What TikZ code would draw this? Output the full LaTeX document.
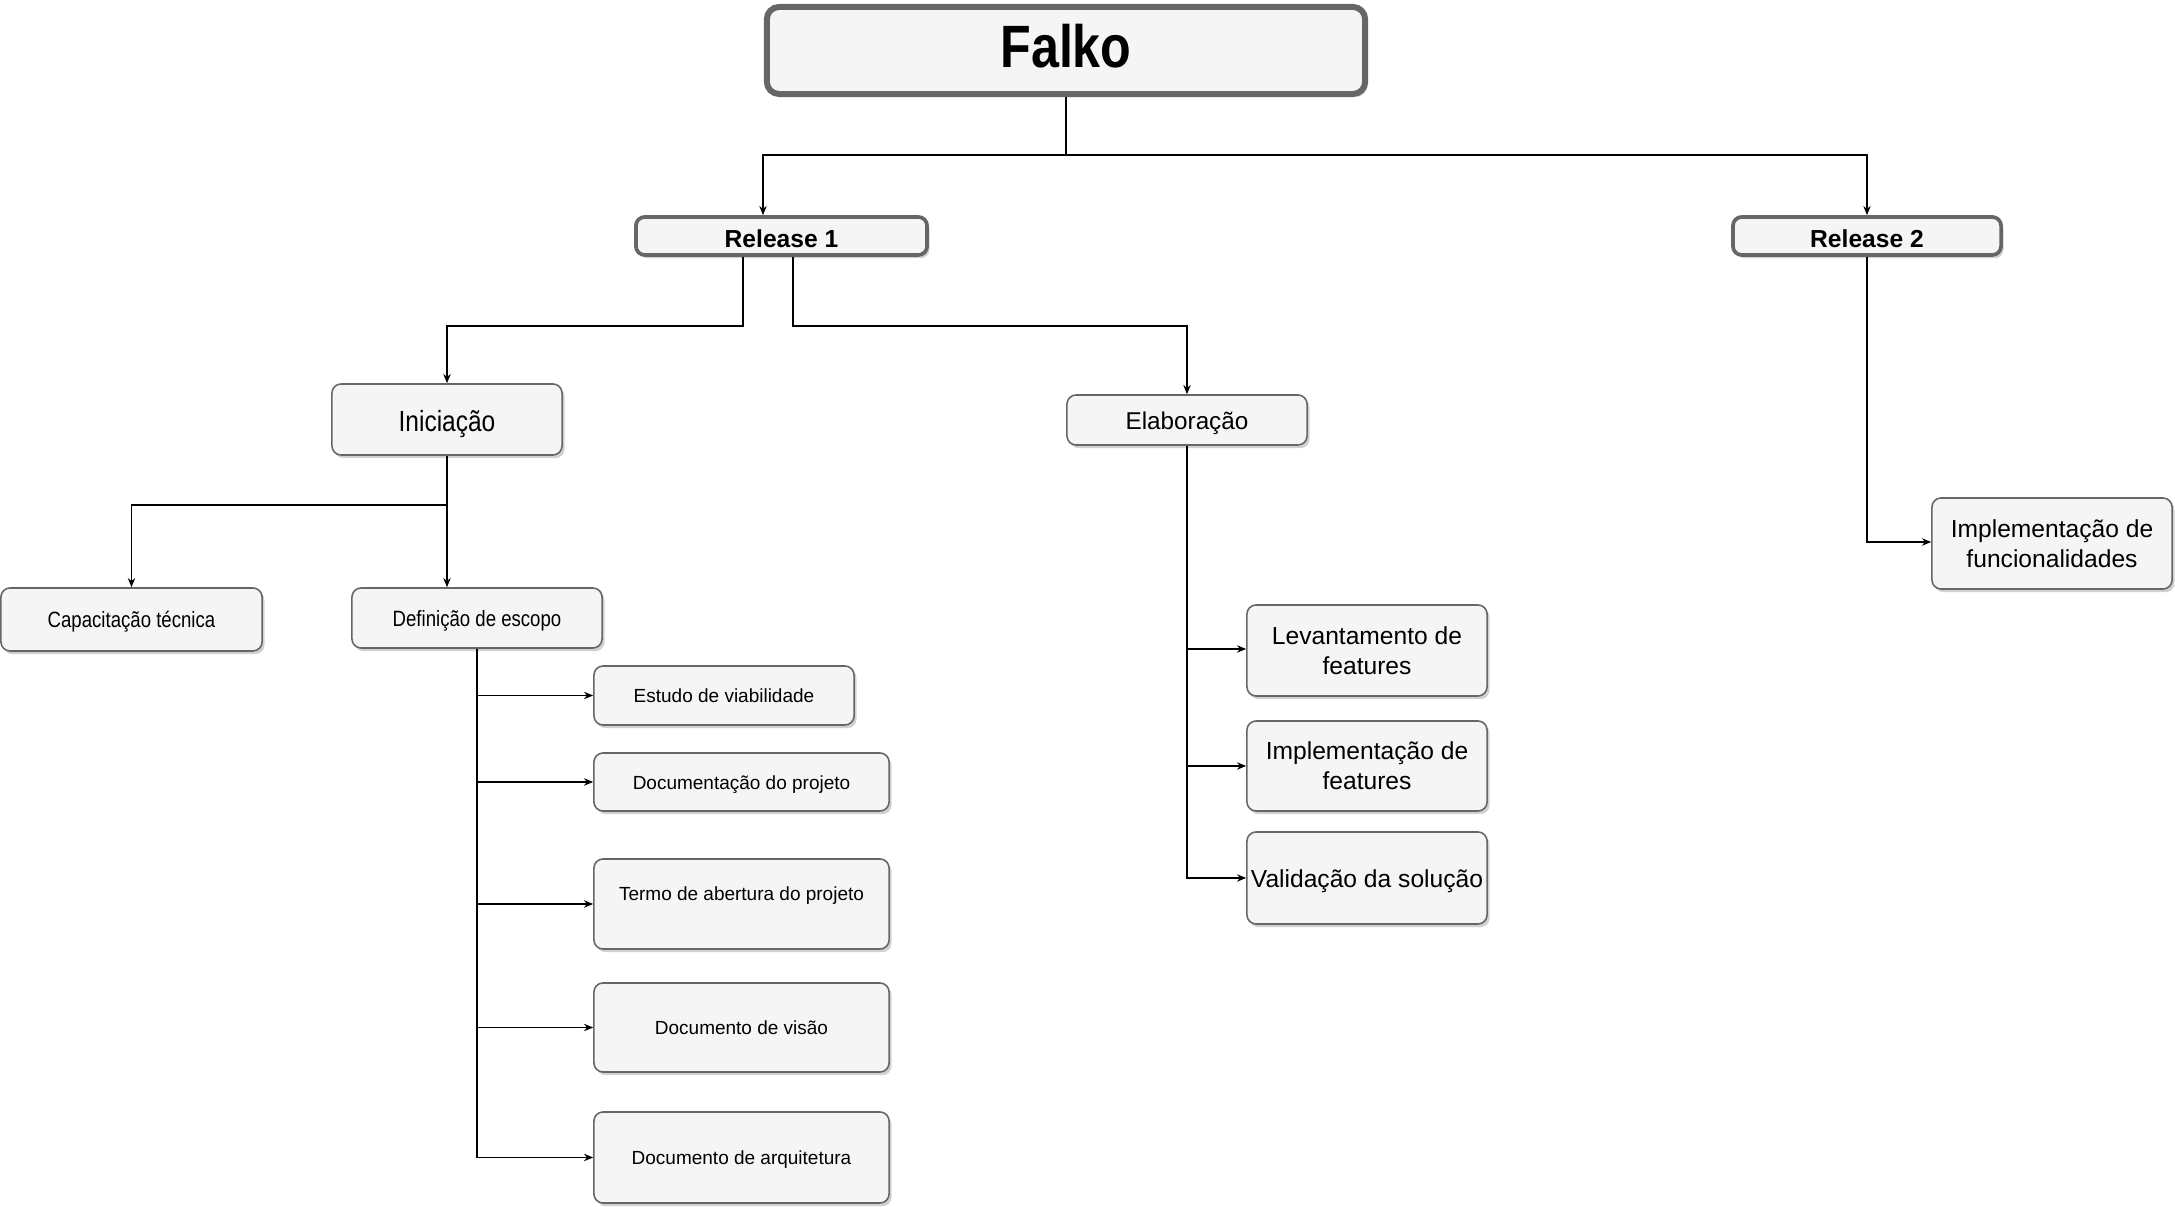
\documentclass[tikz,border=0pt]{standalone}
\usepackage{fontspec}
\setmainfont{Liberation Sans}
\newfontfamily\nrw[FakeStretch=0.84]{Liberation Sans}
\usetikzlibrary{arrows.meta,calc,shadows}
\definecolor{boxfill}{HTML}{F5F5F5}
\definecolor{boxline}{HTML}{666666}
\tikzset{
  shad/.style={drop shadow={shadow xshift=0.7pt, shadow yshift=-0.9pt, fill=black!40, opacity=0.45}},
  box/.style={draw=boxline, line width=0.45pt, fill=boxfill, rounded corners=2.6pt, inner sep=0pt, align=center, text=black, shad},
  bigbox/.style={box, line width=1.7pt, rounded corners=3.5pt},
  relbox/.style={box, line width=1.05pt, rounded corners=2.5pt},
  small/.style={font=\fontsize{5.4pt}{6.5pt}\selectfont, text height=4.2pt, text depth=0pt},
  mid/.style={font=\fontsize{7pt}{8.6pt}\selectfont},
  nsmall/.style={font=\nrw\fontsize{6.3pt}{7.5pt}\selectfont, text height=4.8pt, text depth=0pt},
  conn/.style={draw=black, line width=0.4pt},
  arr/.style={conn, -{Stealth[length=2.6pt,width=2.1pt]}},
}
\begin{document}
\begin{tikzpicture}[x=0.01cm, y=-0.01cm]
\useasboundingbox (0,0) rectangle (2175,1207);

% nodes
\node[bigbox, minimum width=5.98cm, minimum height=0.87cm, font=\nrw\bfseries\fontsize{17pt}{20pt}\selectfont, text height=9.4pt, text depth=0pt] (falko) at (1066,50.5) {Falko};
\node[relbox, minimum width=2.91cm, minimum height=0.38cm, font=\bfseries\fontsize{7pt}{8pt}\selectfont, text height=6.4pt, text depth=0pt] (rel1) at (781.5,236) {Release 1};
\node[relbox, minimum width=2.68cm, minimum height=0.38cm, font=\bfseries\fontsize{7pt}{8pt}\selectfont, text height=6.4pt, text depth=0pt] (rel2) at (1867,236) {Release 2};

\node[box, minimum width=2.30cm, minimum height=0.71cm, font=\nrw\fontsize{8.3pt}{9.5pt}\selectfont, text height=6.6pt, text depth=0pt] (ini) at (447,419.5) {Iniciação};
\node[box, minimum width=2.40cm, minimum height=0.50cm, font=\fontsize{6.9pt}{8pt}\selectfont, text height=5.6pt, text depth=0pt] (ela) at (1187,420) {Elaboração};

\node[box, nsmall, minimum width=2.61cm, minimum height=0.63cm] (cap) at (131.5,619.5) {Capacitação técnica};
\node[box, nsmall, minimum width=2.50cm, minimum height=0.60cm] (def) at (477,618) {Definição de escopo};

\node[box, small, minimum width=2.60cm, minimum height=0.59cm] (est) at (724,695.5) {Estudo de viabilidade};
\node[box, small, minimum width=2.95cm, minimum height=0.58cm] (doc) at (741.5,782) {Documentação do projeto};
\node[box, small, minimum width=2.95cm, minimum height=0.90cm, text height=0pt, text depth=2.2pt] (termo) at (741.5,904) {Termo de abertura do projeto};
\node[box, small, minimum width=2.95cm, minimum height=0.89cm] (visao) at (741.5,1027.5) {Documento de visão};
\node[box, small, minimum width=2.95cm, minimum height=0.91cm] (arq) at (741.5,1157.5) {Documento de arquitetura};

\node[box, mid, minimum width=2.40cm, minimum height=0.91cm] (lev) at (1367,650.5) {Levantamento de\\features};
\node[box, mid, minimum width=2.40cm, minimum height=0.90cm] (impf) at (1367,766) {Implementação de\\features};
\node[box, mid, minimum width=2.40cm, minimum height=0.92cm, text height=5.5pt, text depth=0pt] (val) at (1367,878) {Validação da solução};

\node[box, mid, minimum width=2.40cm, minimum height=0.91cm] (impfun) at (2052,543.5) {Implementação de\\funcionalidades};

% connectors
\draw[arr] (falko.south) -- (1066,155) -| ($(rel1.north)+(-18.5,0)$);
\draw[arr] (falko.south) -- (1066,155) -| (rel2.north);

\draw[arr] ($(rel1.south)+(-38.5,0)$) |- (447,326) -- (ini.north);
\draw[arr] ($(rel1.south)+(11.5,0)$) |- (1187,326) -- (ela.north);

\draw[arr] (ini.south) -- (447,505) -| (cap.north);
\draw[arr] (ini.south) -- ($(def.north)+(-30,0)$);

\draw[arr] (def.south) |- (est.west);
\draw[arr] (def.south) |- (doc.west);
\draw[arr] (def.south) |- (termo.west);
\draw[arr] (def.south) |- (visao.west);
\draw[arr] (def.south) |- (arq.west);

\draw[arr] (ela.south) |- ($(lev.west)+(0,-1.5)$);
\draw[arr] (ela.south) |- (impf.west);
\draw[arr] (ela.south) |- (val.west);

\draw[arr] (rel2.south) |- ($(impfun.west)+(0,-1.5)$);
\end{tikzpicture}
\end{document}
